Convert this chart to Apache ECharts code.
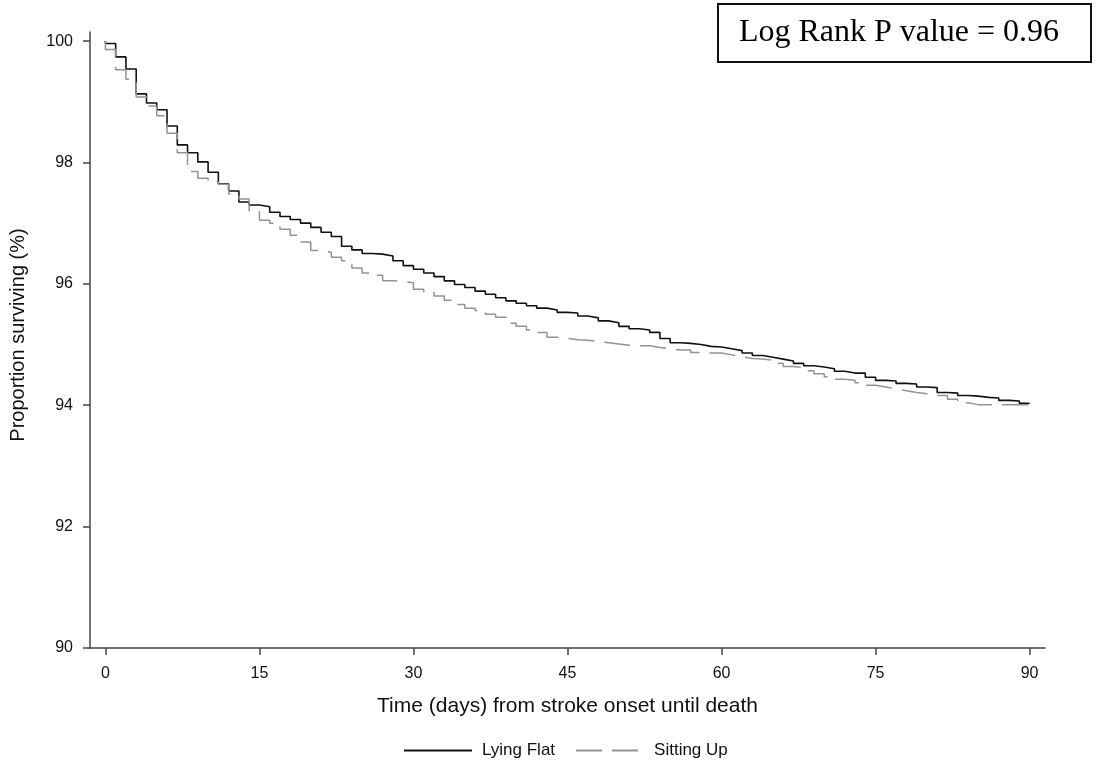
<!DOCTYPE html>
<html>
<head>
<meta charset="utf-8">
<title>Survival by head position</title>
<script src="https://cdn.jsdelivr.net/npm/echarts@6/dist/echarts.min.js"></script>
<style>
  html, body { margin: 0; padding: 0; background: #fff; }
  #chart { width: 1097px; height: 762px; }
</style>
</head>
<body>
<div id="chart"></div>
<script>
// Kaplan-Meier survival (%) by day since stroke onset; value i holds over [i, i+1)
const days = Array.from({ length: 91 }, (_, i) => i);

const lyingFlat = [
  99.96, 99.74, 99.54, 99.13, 98.98, 98.87, 98.60, 98.29, 98.16, 98.01,
  97.84, 97.65, 97.53, 97.35, 97.30, 97.27, 97.18, 97.11, 97.06, 97.00,
  96.93, 96.85, 96.78, 96.62, 96.56, 96.50, 96.49, 96.46, 96.38, 96.30,
  96.24, 96.18, 96.12, 96.05, 95.99, 95.94, 95.88, 95.83, 95.77, 95.72,
  95.68, 95.64, 95.60, 95.57, 95.53, 95.52, 95.47, 95.44, 95.39, 95.36,
  95.30, 95.26, 95.24, 95.20, 95.10, 95.03, 95.02, 95.00, 94.97, 94.96,
  94.93, 94.90, 94.86, 94.82, 94.79, 94.76, 94.73, 94.69, 94.65, 94.63,
  94.60, 94.56, 94.53, 94.53, 94.46, 94.41, 94.40, 94.36, 94.35, 94.30,
  94.29, 94.21, 94.20, 94.16, 94.15, 94.13, 94.12, 94.08, 94.07, 94.03,
  94.02
];

const sittingUp = [
  99.86, 99.53, 99.37, 99.08, 98.93, 98.77, 98.48, 98.16, 97.85, 97.74,
  97.68, 97.64, 97.48, 97.40, 97.20, 97.05, 97.00, 96.90, 96.80, 96.69,
  96.55, 96.52, 96.44, 96.38, 96.26, 96.18, 96.14, 96.05, 96.04, 96.02,
  95.91, 95.86, 95.80, 95.73, 95.66, 95.60, 95.56, 95.50, 95.45, 95.35,
  95.30, 95.24, 95.20, 95.12, 95.10, 95.08, 95.07, 95.05, 95.03, 95.01,
  94.99, 94.98, 94.98, 94.95, 94.93, 94.91, 94.91, 94.87, 94.86, 94.86,
  94.83, 94.80, 94.77, 94.76, 94.74, 94.69, 94.64, 94.62, 94.57, 94.52,
  94.47, 94.43, 94.41, 94.37, 94.33, 94.30, 94.27, 94.24, 94.21, 94.19,
  94.16, 94.16, 94.10, 94.04, 94.01, 94.01, 94.01, 94.01, 94.01, 94.01,
  94.01
];

const startValue = 100;
const xTicks = [0, 15, 30, 45, 60, 75, 90];
const yTicks = [90, 92, 94, 96, 98, 100];
const groupNames = ['Lying Flat', 'Sitting Up'];
const testLabel = 'Log Rank P value = 0.96';

const SANS = '"Liberation Sans", Arial, Helvetica, sans-serif';
const SERIF = '"Liberation Serif", "Times New Roman", Times, serif';

function curve(values) {
  return [[0, startValue]].concat(days.map((d, i) => [d, values[i]]));
}

const chart = echarts.init(document.getElementById('chart'), null, { renderer: 'canvas' });

chart.setOption({
  animation: false,
  backgroundColor: '#ffffff',
  grid: { left: 88, right: 52, top: 32, bottom: 114, containLabel: false },
  xAxis: {
    type: 'value',
    min: -1.5,
    max: 91.5,
    name: 'Time (days) from stroke onset until death',
    nameLocation: 'middle',
    nameGap: 48,
    nameTextStyle: { fontFamily: SANS, fontSize: 21, color: '#111' },
    axisLine: { show: true, onZero: false, lineStyle: { color: '#444', width: 1.5 } },
    axisTick: { show: true, length: 7, customValues: xTicks, lineStyle: { color: '#444', width: 1.5 } },
    axisLabel: { customValues: xTicks, margin: 18, fontFamily: SANS, fontSize: 16, color: '#111' },
    splitLine: { show: false }
  },
  yAxis: {
    type: 'value',
    min: 90,
    max: 100.15,
    name: 'Proportion surviving (%)',
    nameLocation: 'middle',
    nameGap: 62,
    nameTextStyle: { fontFamily: SANS, fontSize: 20, color: '#111', padding: [0, 0, 0, 10] },
    axisLine: { show: true, onZero: false, lineStyle: { color: '#444', width: 1.5 } },
    axisTick: { show: true, length: 7, customValues: yTicks, lineStyle: { color: '#444', width: 1.5 } },
    axisLabel: { customValues: yTicks, margin: 17, fontFamily: SANS, fontSize: 16, color: '#111' },
    splitLine: { show: false }
  },
  legend: {
    left: 398,
    top: 737,
    itemWidth: 68,
    itemHeight: 14,
    itemGap: 20,
    data: groupNames,
    itemStyle: { opacity: 0, color: 'transparent', borderWidth: 0 },
    textStyle: { fontFamily: SANS, fontSize: 17, color: '#111', padding: [0, 0, 0, 5] }
  },
  series: [
    {
      name: groupNames[0],
      type: 'line',
      step: 'end',
      symbol: 'none',
      data: curve(lyingFlat),
      lineStyle: { color: '#111', width: 1.6 },
      itemStyle: { color: '#111' }
    },
    {
      name: groupNames[1],
      type: 'line',
      step: 'end',
      symbol: 'none',
      data: curve(sittingUp),
      lineStyle: { color: '#939393', width: 1.5, type: [26, 10] },
      itemStyle: { color: '#939393' }
    }
  ],
  graphic: [
    {
      type: 'group',
      left: 717,
      top: 3,
      children: [
        {
          type: 'rect',
          shape: { x: 0, y: 0, width: 373, height: 58 },
          style: { fill: '#fff', stroke: '#111', lineWidth: 2 }
        },
        {
          type: 'text',
          x: 181,
          y: 29,
          style: {
            text: testLabel,
            font: '32px ' + SERIF,
            fill: '#000',
            align: 'center',
            verticalAlign: 'middle'
          }
        }
      ]
    }
  ]
});
</script>
</body>
</html>
